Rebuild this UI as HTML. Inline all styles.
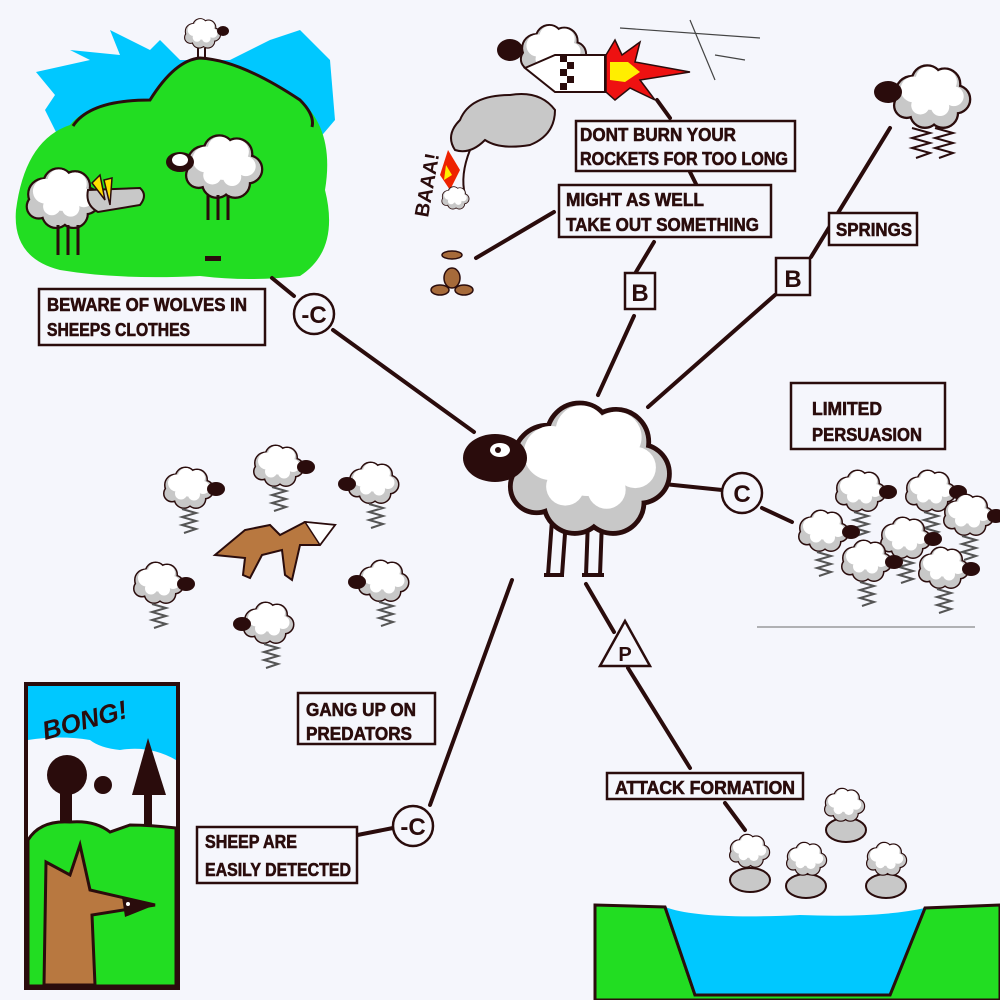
<!DOCTYPE html>
<html><head><meta charset="utf-8"><style>
html,body{margin:0;padding:0;background:#f5f6fc}
svg{display:block}
text{font-family:"Liberation Sans Narrow","Liberation Sans",sans-serif;font-weight:bold;fill:#2a0c0c}
</style></head><body>
<svg width="1000" height="1000" viewBox="0 0 1000 1000" xmlns="http://www.w3.org/2000/svg">
<defs>
<g id="woolshape">
<circle cx="25" cy="35" r="20"/><circle cx="45" cy="20" r="19"/><circle cx="68" cy="24" r="19"/><circle cx="83" cy="44" r="17"/><circle cx="66" cy="62" r="18"/><circle cx="42" cy="62" r="18"/><circle cx="18" cy="52" r="15"/><circle cx="50" cy="42" r="25"/>
</g>
<symbol id="wool" viewBox="-5 -5 110 92">
<use href="#woolshape" fill="#2a0c0c" stroke="#2a0c0c" stroke-width="6"/>
<use href="#woolshape" fill="#c8c8c8"/>
<g fill="#ffffff"><circle cx="27" cy="31" r="17"/><circle cx="46" cy="17" r="16"/><circle cx="68" cy="21" r="16"/><circle cx="80" cy="40" r="13"/><circle cx="50" cy="38" r="20"/><circle cx="36" cy="52" r="12"/><circle cx="62" cy="54" r="12"/></g>
</symbol>
<g id="flock">
<use href="#wool" x="0" y="0" width="56" height="46"/>
<ellipse cx="56" cy="24" rx="9" ry="7" fill="#2a0c0c"/>
<path d="M22 44 l14 4 -14 4 14 4 -14 4 14 4 -12 4" fill="none" stroke="#555" stroke-width="2"/>
</g>
<g id="flockL">
<use href="#wool" x="0" y="0" width="56" height="46"/>
<ellipse cx="2" cy="24" rx="9" ry="7" fill="#2a0c0c"/>
<path d="M24 44 l14 4 -14 4 14 4 -14 4 14 4 -12 4" fill="none" stroke="#555" stroke-width="2"/>
</g>
</defs>

<path d="M36 72 L90 60 L70 50 L120 55 L110 30 L150 50 L160 40 L180 60 L230 60 L270 40 L300 30 L330 60 L335 120 L318 140 L60 140 L45 110 L55 95 Z" fill="#00c8ff"/>
<path d="M16 210 Q25 140 70 125 Q90 100 150 100 Q175 60 200 58 Q240 60 300 100 Q335 130 325 190 Q340 250 300 276 Q250 282 200 276 Q120 280 60 270 Q12 258 16 210 Z" fill="#22dd22"/>
<path d="M73 126 Q90 100 150 100 Q175 60 200 58 Q240 60 300 100 Q315 115 312 127" fill="none" stroke="#2a0c0c" stroke-width="3"/>
<use href="#wool" x="182" y="17" width="40" height="33"/><ellipse cx="223" cy="31" rx="6" ry="5" fill="#2a0c0c"/>
<path d="M198 48 v10 M205 48 v10" stroke="#2a0c0c" stroke-width="2"/>
<use href="#wool" x="180" y="132" width="86" height="70"/>
<ellipse cx="180" cy="162" rx="14" ry="10" fill="#2a0c0c"/><ellipse cx="180" cy="160" rx="8" ry="6" fill="#fff"/>
<path d="M208 195 v25 M218 195 v25 M228 195 v25" stroke="#2a0c0c" stroke-width="3"/>
<use href="#wool" x="22" y="165" width="80" height="67"/>
<path d="M58 225 v30 M68 225 v30 M78 225 v30" stroke="#2a0c0c" stroke-width="3"/>
<path d="M88 190 L140 188 Q148 195 140 205 L98 212 Q85 205 88 190 Z" fill="#c8c8c8" stroke="#2a0c0c" stroke-width="2"/>
<path d="M92 183 L100 175 L105 200 Z M104 180 L112 178 L110 205 Z" fill="#ffe000" stroke="#2a0c0c" stroke-width="1.5"/>
<rect x="205" y="256" width="16" height="5" fill="#2a0c0c"/>

<g stroke="#2a0c0c" stroke-width="4" stroke-linecap="round" fill="none">
<path d="M474 432 L333 330 M294 296 L272 278"/>
<path d="M598 395 L634 316 M636 272 L654 242"/>
<path d="M648 407 L775 295 M811 257 L890 128"/>
<path d="M664 484 L722 490 M762 508 L792 522"/>
<path d="M512 580 L430 805 M393 828 L332 840"/>
<path d="M586 584 L614 632 M628 668 L690 768"/>
<path d="M725 803 L745 830"/>
<path d="M476 258 L554 212"/>
<path d="M657 100 L670 118 M690 172 L696 184"/>
</g>

<path d="M460 120 Q470 95 510 95 Q540 90 555 110 Q555 135 530 145 Q500 150 485 140 Q470 155 455 150 Q445 135 460 120 Z" fill="#c8c8c8" stroke="#2a0c0c" stroke-width="2"/>
<path d="M470 150 Q460 175 465 195" fill="none" stroke="#2a0c0c" stroke-width="2"/>
<use href="#wool" x="515" y="22" width="75" height="60"/>
<ellipse cx="510" cy="50" rx="13" ry="11" fill="#2a0c0c"/>
<path d="M525 68 L555 55 L605 55 L605 92 L555 92 Z" fill="#fff" stroke="#2a0c0c" stroke-width="2"/>
<g fill="#2a0c0c"><rect x="560" y="55" width="7" height="7"/><rect x="567" y="62" width="7" height="7"/><rect x="560" y="69" width="7" height="7"/><rect x="567" y="76" width="7" height="7"/><rect x="560" y="83" width="7" height="7"/></g>
<path d="M606 55 L615 40 L622 55 L640 42 L635 62 L690 72 L640 80 L655 100 L630 88 L615 100 L606 92 Z" fill="#ee1111" stroke="#2a0c0c" stroke-width="1.5"/>
<path d="M610 62 L628 62 L640 72 L625 82 L610 80 Z" fill="#ffee00"/>
<path d="M620 28 L760 38 M690 20 L715 80 M715 55 L745 60" stroke="#444" stroke-width="1.2" fill="none"/>
<path d="M448 150 L440 175 L450 190 L460 170 Z" fill="#ee2200"/><path d="M446 165 L444 180 L452 175Z" fill="#ffee00"/>
<use href="#wool" x="440" y="185" width="30" height="26"/>
<text x="428" y="218" font-size="20" transform="rotate(-80 428 218)">BAAA!</text>
<g fill="#a66a3a" stroke="#2a0c0c" stroke-width="1.5"><ellipse cx="452" cy="255" rx="10" ry="4"/><ellipse cx="452" cy="278" rx="8" ry="10"/><ellipse cx="440" cy="290" rx="9" ry="5"/><ellipse cx="464" cy="290" rx="9" ry="5"/></g>

<use href="#wool" x="888" y="62" width="86" height="70"/>
<ellipse cx="888" cy="92" rx="14" ry="11" fill="#2a0c0c"/>
<path d="M912 128 l18 5 -18 5 18 5 -18 5 18 5 -14 5" fill="none" stroke="#2a0c0c" stroke-width="2"/>
<path d="M935 128 l18 5 -18 5 18 5 -18 5 18 5 -14 5" fill="none" stroke="#2a0c0c" stroke-width="2"/>

<path d="M552 520 L548 575 M566 520 L562 575 M588 520 L586 575 M602 520 L600 575" stroke="#2a0c0c" stroke-width="4"/>
<path d="M544 575 h20 M582 575 h22" stroke="#2a0c0c" stroke-width="4"/>
<use href="#wool" x="500" y="395" width="175" height="148"/>
<ellipse cx="495" cy="458" rx="32" ry="24" fill="#2a0c0c"/>
<ellipse cx="500" cy="450" rx="10" ry="7" fill="#fff"/><circle cx="498" cy="450" r="3" fill="#2a0c0c"/>

<use href="#flock" x="832" y="468"/><use href="#flock" x="902" y="468"/><use href="#flock" x="940" y="492"/>
<use href="#flock" x="795" y="508"/><use href="#flock" x="877" y="515"/><use href="#flock" x="838" y="538"/><use href="#flock" x="915" y="545"/>
<path d="M757 627 L975 627" stroke="#888" stroke-width="1.2"/>

<use href="#flock" x="160" y="465"/><use href="#flock" x="250" y="443"/><use href="#flockL" x="345" y="460"/>
<use href="#flock" x="130" y="560"/><use href="#flockL" x="355" y="558"/><use href="#flockL" x="240" y="600"/>
<path d="M215 555 L245 530 L270 525 L280 535 L305 522 L335 525 L320 545 L300 545 L292 580 L285 575 L282 550 L262 555 L250 578 L243 575 L245 558 Z" fill="#b87840" stroke="#2a0c0c" stroke-width="2"/>
<path d="M305 522 L335 525 L320 545 Z" fill="#fff" stroke="#2a0c0c" stroke-width="1.5"/>

<rect x="26" y="684" width="152" height="304" fill="#f5f6fc" stroke="#2a0c0c" stroke-width="4"/>
<path d="M28 686 H176 V760 Q150 745 120 750 Q100 748 90 740 Q60 735 28 740 Z" fill="#00c8ff"/>
<text x="45" y="740" font-size="26" transform="rotate(-15 45 740)" style="font-style:italic">BONG!</text>
<circle cx="67" cy="775" r="20" fill="#2a0c0c"/><rect x="60" y="785" width="12" height="45" fill="#2a0c0c"/>
<path d="M148 738 L132 795 L166 795 Z" fill="#2a0c0c"/><rect x="144" y="795" width="8" height="35" fill="#2a0c0c"/>
<circle cx="103" cy="785" r="9" fill="#2a0c0c"/>
<path d="M28 840 Q40 820 70 822 Q95 820 110 832 L130 825 Q150 825 176 828 V986 H28 Z" fill="#22dd22" stroke="#2a0c0c" stroke-width="3"/>
<path d="M46 862 L70 875 L80 845 L90 890 L155 905 L92 915 L95 985 L44 985 Z" fill="#b87840" stroke="#2a0c0c" stroke-width="3"/>
<path d="M122 897 L155 905 L125 917 Z" fill="#2a0c0c"/><circle cx="128" cy="904" r="2" fill="#fff"/>

<path d="M595 905 L665 907 L695 995 L890 995 L925 908 L1000 905 V1000 H595 Z" fill="#22dd22" stroke="#2a0c0c" stroke-width="3"/>
<path d="M665 907 Q700 920 800 915 Q880 918 925 908 L890 995 L695 995 Z" fill="#00c8ff"/>
<path d="M665 907 L695 995 L890 995 L925 908" fill="none" stroke="#2a0c0c" stroke-width="3"/>
<g>
<ellipse cx="750" cy="880" rx="20" ry="12" fill="#c8c8c8" stroke="#2a0c0c" stroke-width="2"/><use href="#wool" x="727" y="832" width="44" height="38"/>
<ellipse cx="806" cy="886" rx="20" ry="12" fill="#c8c8c8" stroke="#2a0c0c" stroke-width="2"/><use href="#wool" x="784" y="840" width="44" height="38"/>
<ellipse cx="886" cy="886" rx="20" ry="12" fill="#c8c8c8" stroke="#2a0c0c" stroke-width="2"/><use href="#wool" x="864" y="840" width="44" height="38"/>
<ellipse cx="846" cy="830" rx="20" ry="12" fill="#c8c8c8" stroke="#2a0c0c" stroke-width="2"/><use href="#wool" x="822" y="786" width="44" height="38"/>
</g>

<g fill="#f5f6fc" stroke="#2a0c0c" stroke-width="2.5">
<rect x="39" y="289" width="226" height="56"/>
<rect x="576" y="121" width="219" height="50"/>
<rect x="559" y="185" width="212" height="52"/>
<rect x="829" y="213" width="88" height="32"/>
<rect x="791" y="383" width="154" height="66"/>
<rect x="298" y="693" width="137" height="51"/>
<rect x="197" y="827" width="160" height="56"/>
<rect x="607" y="773" width="196" height="26"/>
<rect x="625" y="273" width="30" height="36"/>
<rect x="776" y="258" width="34" height="37"/>
<circle cx="314" cy="314" r="20"/>
<circle cx="742" cy="493" r="20"/>
<circle cx="413" cy="826" r="20"/>
<path d="M625 621 L650 666 L600 666 Z"/>
</g>
<g font-size="18" stroke="#2a0c0c" stroke-width="0.6">
<text x="47" y="311" textLength="200" lengthAdjust="spacingAndGlyphs">BEWARE OF WOLVES IN</text>
<text x="47" y="336" textLength="143" lengthAdjust="spacingAndGlyphs">SHEEPS CLOTHES</text>
<text x="580" y="141" textLength="156" lengthAdjust="spacingAndGlyphs">DONT BURN YOUR</text>
<text x="580" y="165" textLength="208" lengthAdjust="spacingAndGlyphs">ROCKETS FOR TOO LONG</text>
<text x="566" y="206" textLength="138" lengthAdjust="spacingAndGlyphs">MIGHT AS WELL</text>
<text x="566" y="231" textLength="193" lengthAdjust="spacingAndGlyphs">TAKE OUT SOMETHING</text>
<text x="836" y="236" textLength="76" lengthAdjust="spacingAndGlyphs">SPRINGS</text>
<text x="812" y="415" textLength="70" lengthAdjust="spacingAndGlyphs">LIMITED</text>
<text x="812" y="441" textLength="110" lengthAdjust="spacingAndGlyphs">PERSUASION</text>
<text x="306" y="716" textLength="110" lengthAdjust="spacingAndGlyphs">GANG UP ON</text>
<text x="306" y="740" textLength="106" lengthAdjust="spacingAndGlyphs">PREDATORS</text>
<text x="205" y="848" textLength="92" lengthAdjust="spacingAndGlyphs">SHEEP ARE</text>
<text x="205" y="876" textLength="146" lengthAdjust="spacingAndGlyphs">EASILY DETECTED</text>
<text x="615" y="794" textLength="180" lengthAdjust="spacingAndGlyphs">ATTACK FORMATION</text>
</g>
<g font-size="24" text-anchor="middle">
<text x="640" y="301">B</text>
<text x="793" y="287">B</text>
<text x="314" y="323">-C</text>
<text x="742" y="502">C</text>
<text x="413" y="835">-C</text>
<text x="625" y="661" font-size="20">P</text>
</g>
</svg>
</body></html>
